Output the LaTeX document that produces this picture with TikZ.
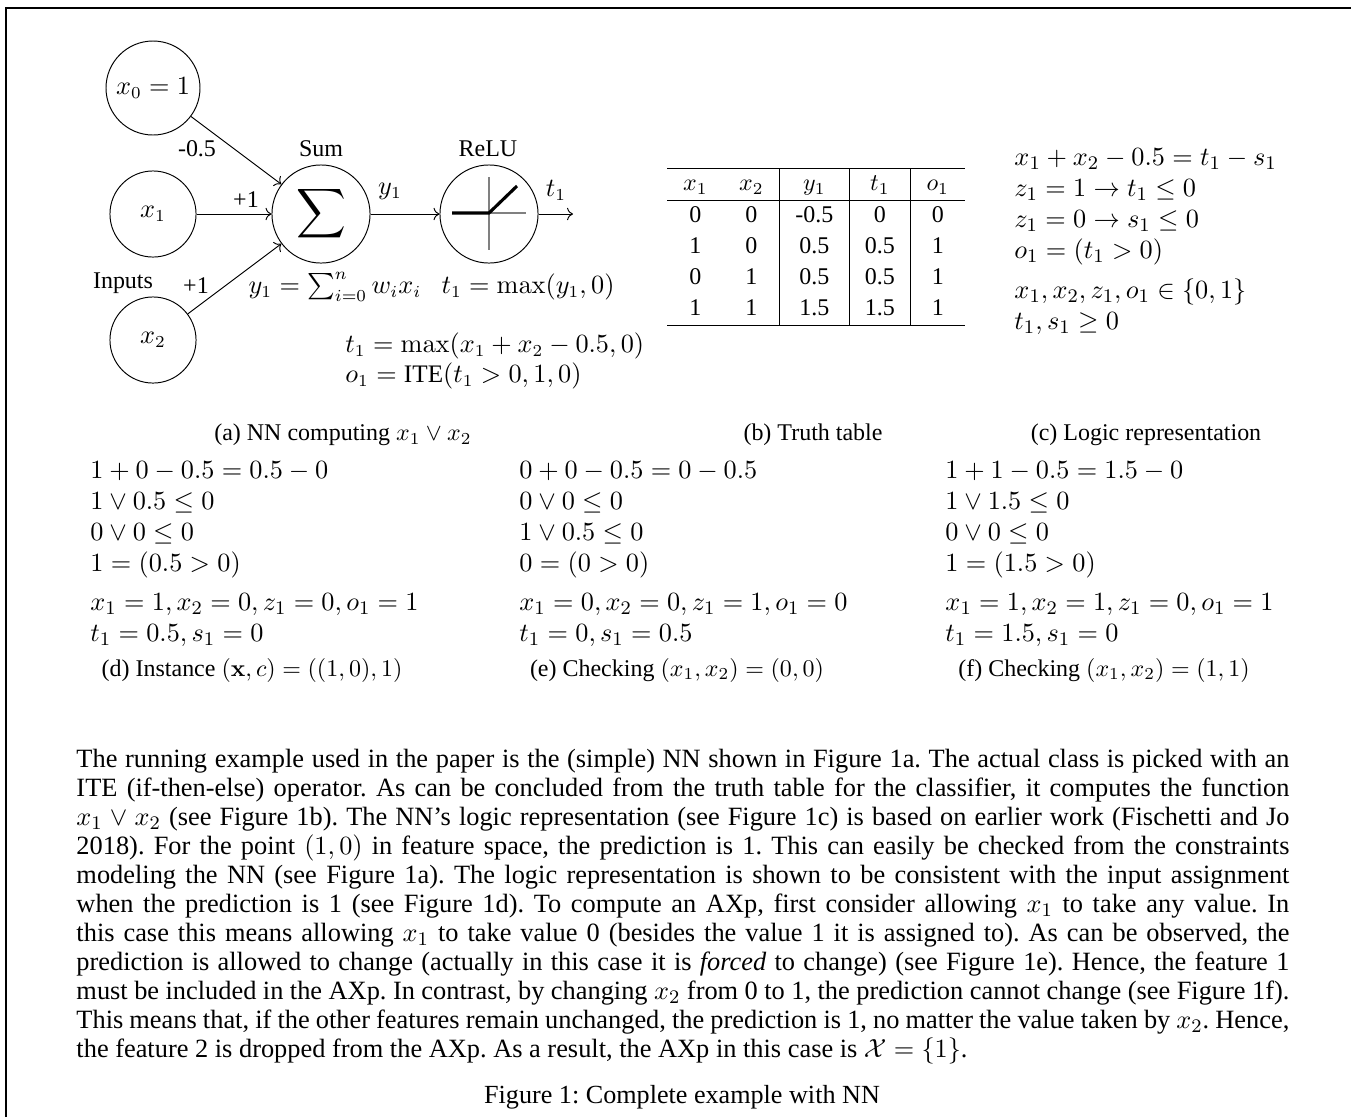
\documentclass[tikz,border=0pt]{standalone}
\usepackage{amsmath}
\usepackage[no-math]{fontspec}
\setmainfont{Liberation Serif}
\usepackage{tikz}
\usetikzlibrary{calc}
\usetikzlibrary{arrows.meta}

\tikzset{
  neuron/.style={draw, circle, inner sep=0pt, minimum size=35.9pt},
  bignode/.style={neuron, minimum size=40.9pt},
  lbl/.style={inner sep=0pt, font=\fontsize{10}{12}\selectfont},
  eqs/.style={inner sep=0pt, align=left, anchor=north west, font=\fontsize{11.3}{13}\selectfont},
  subcap/.style={inner sep=0pt, font=\fontsize{10}{12}\selectfont}
}

\begin{document}
\frenchspacing
\begin{tikzpicture}[x=0.417pt, y=-0.417pt]
\useasboundingbox (0,0) rectangle (1351,1117);
\draw[line width=0.8pt] (6,1117) -- (6,8) -- (1351,8);

\begin{scope}[font=\fontsize{10.5}{12.6}\selectfont]
\node[neuron, minimum size=39.2pt] (xzero) at (153,88) {$x_0=1$};
\node[neuron] (xone) at (153,214) {$x_1$};
\node[neuron] (xtwo) at (153,340) {$x_2$};
\node[bignode] (sum) at (321,214) {\fontsize{14.4}{16}\selectfont$\displaystyle\sum$};
\node[bignode] (relu) at (489,214) {};
\coordinate (out) at (573,214);

\draw[->] (xzero) -- (sum);
\draw[->] (xone) -- (sum);
\draw[->] (xtwo) -- (sum);
\draw[->] (sum) -- (relu);
\draw[->] (relu) -- (out);

\draw[gray, line width=0.6pt] (489,177) -- (489,250);
\draw[gray, line width=0.6pt] (452,213) -- (526,213);
\draw[line width=1.3pt] (452,213) -- (489,213) -- (517,186);

\node[lbl] (wzero) at (197,149) {-0.5};
\node[lbl] (wone) at (246,200) {+1};
\node[lbl] (wtwo) at (196,286) {+1};
\node[lbl] (inputs) at (123,283) {Inputs};
\node[lbl] (sumlbl) at (321,149) {Sum};
\node[lbl] (relulbl) at (488,149) {ReLU};
\node[inner sep=0pt] (yone) at (390,191) {$y_1$};
\node[inner sep=0pt] (tone) at (556,190) {$t_1$};
\node[inner sep=0pt] (sumeq) at (335,287) {$y_1=\sum_{i=0}^{n}w_ix_i$};
\node[inner sep=0pt] (maxeq) at (528,287) {$t_1=\max(y_1,0)$};
\node[inner sep=0pt, align=left, anchor=west] (iteeq) at (345,361)
  {$t_1=\max(x_1+x_2-0.5,0)$\\ $o_1=\textrm{ITE}(t_1>0,1,0)$};
\end{scope}

\node[inner sep=0pt, font=\fontsize{10}{12}\selectfont] (truth) at (816,247) {%
\renewcommand{\arraystretch}{1.08}\setlength{\tabcolsep}{6.6pt}%
\begin{tabular}{cc|c|c|c}
\hline
$x_1$ & $x_2$ & $y_1$ & $t_1$ & $o_1$\\
\hline
0 & 0 & -0.5 & 0 & 0\\
1 & 0 & 0.5 & 0.5 & 1\\
0 & 1 & 0.5 & 0.5 & 1\\
1 & 1 & 1.5 & 1.5 & 1\\
\hline
\end{tabular}};

\node[eqs, font=\fontsize{11.4}{13}\selectfont] (logic) at (1014,148) {$x_1+x_2-0.5=t_1-s_1$\\ $z_1=1\to t_1\leq0$\\
  $z_1=0\to s_1\leq0$\\ $o_1=(t_1>0)$\\[3.6pt] $x_1,x_2,z_1,o_1\in\{0,1\}$\\ $t_1,s_1\geq0$};

\node[subcap] (capa) at (343,435) {(a) NN computing $x_1\vee x_2$};
\node[subcap] (capb) at (813,435) {(b) Truth table};
\node[subcap] (capc) at (1146,435) {(c) Logic representation};

\node[eqs] (inst) at (90,461) {$1+0-0.5=0.5-0$\\ $1\vee0.5\leq0$\\ $0\vee0\leq0$\\
  $1=(0.5>0)$\\[3pt] $x_1=1,x_2=0,z_1=0,o_1=1$\\ $t_1=0.5,s_1=0$};
\node[eqs] (chka) at (519,461) {$0+0-0.5=0-0.5$\\ $0\vee0\leq0$\\ $1\vee0.5\leq0$\\
  $0=(0>0)$\\[3pt] $x_1=0,x_2=0,z_1=1,o_1=0$\\ $t_1=0,s_1=0.5$};
\node[eqs] (chkb) at (945,461) {$1+1-0.5=1.5-0$\\ $1\vee1.5\leq0$\\ $0\vee0\leq0$\\
  $1=(1.5>0)$\\[3pt] $x_1=1,x_2=1,z_1=0,o_1=1$\\ $t_1=1.5,s_1=0$};

\node[subcap] (capd) at (252,670) {(d) Instance $(\mathbf{x},c)=((1,0),1)$};
\node[subcap] (cape) at (677,670) {(e) Checking $(x_1,x_2)=(0,0)$};
\node[subcap] (capf) at (1104,670) {(f) Checking $(x_1,x_2)=(1,1)$};

\node[inner sep=0pt, anchor=north west, text width=505.8pt, align=justify,
  font=\fontsize{11}{12.1}\selectfont] (body) at (76,749) {%
The running example used in the paper is the (simple) NN shown in Figure 1a. The actual class is picked with an\linebreak
ITE (if-then-else) operator. As can be concluded from the truth table for the classifier, it computes the function\linebreak
$x_1\vee x_2$ (see Figure 1b). The NN's logic representation (see Figure 1c) is based on earlier work (Fischetti and Jo\linebreak
2018). For the point $(1,0)$ in feature space, the prediction is 1. This can easily be checked from the constraints\linebreak
modeling the NN (see Figure 1a). The logic representation is shown to be consistent with the input assignment\linebreak
when the prediction is 1 (see Figure 1d). To compute an AXp, first consider allowing $x_1$ to take any value. In\linebreak
this case this means allowing $x_1$ to take value 0 (besides the value 1 it is assigned to). As can be observed, the\linebreak
prediction is allowed to change (actually in this case it is \emph{forced} to change) (see Figure 1e). Hence, the feature 1\linebreak
must be included in the AXp. In contrast, by changing $x_2$ from 0 to 1, the prediction cannot change (see Figure 1f).\linebreak
This means that, if the other features remain unchanged, the prediction is 1, no matter the value taken by $x_2$. Hence,\linebreak
the feature 2 is dropped from the AXp. As a result, the AXp in this case is $\mathcal{X}=\{1\}$.};

\node[inner sep=0pt, font=\fontsize{10.9}{12}\selectfont] (figcap) at (682,1097) {Figure 1: Complete example with NN};
\end{tikzpicture}
\end{document}
